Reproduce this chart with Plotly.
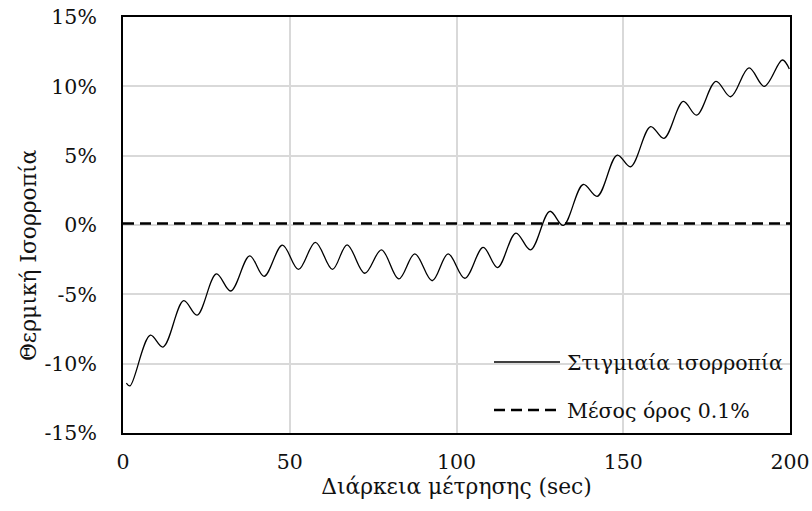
import plotly.graph_objects as go

# Instantaneous thermal balance (%) over the measurement period (sec)
time_sec = [1.0, 2.1, 8.2, 12.0, 18.2, 22.2, 28.0, 32.3, 38.0, 42.3, 47.8, 52.6,
            57.7, 62.8, 67.2, 72.5, 77.5, 82.7, 87.5, 92.7, 97.5, 102.5, 108.0,
            112.3, 117.8, 122.2, 128.0, 132.0, 138.0, 142.2, 148.2, 152.2, 158.2,
            162.2, 168.0, 172.0, 177.8, 182.2, 187.7, 192.3, 197.7, 199.8]
balance_pct = [-11.4, -11.6, -7.95, -8.8, -5.46, -6.5, -3.53, -4.76, -2.22, -3.7,
               -1.45, -3.2, -1.25, -3.2, -1.43, -3.48, -1.79, -3.89, -2.08, -4.02,
               -2.08, -3.84, -1.62, -3.07, -0.58, -1.79, 0.99, -0.03, 2.92, 2.07,
               5.04, 4.2, 7.1, 6.25, 8.91, 7.92, 10.36, 9.25, 11.33, 10.0, 11.9, 11.25]

mean_pct = 0.1
x_range = [0, 200]

x_ticks = [0, 50, 100, 150, 200]
y_ticks = [-15, -10, -5, 0, 5, 10, 15]
y_tick_text = ["-15%", "-10%", "-5%", "0%", "5%", "10%", "15%"]

series_names = ["Στιγμιαία ισορροπία", "Μέσος όρος 0.1%"]
x_title = "Διάρκεια μέτρησης (sec)"
y_title = "Θερμική Ισορροπία"

FONT = "DejaVu Serif"
TEXT_COLOR = "#111111"
TITLE_SIZE = 21.8

fig = go.Figure()
fig.add_trace(go.Scatter(
    x=time_sec, y=balance_pct, mode="lines", name=series_names[0],
    line=dict(color="black", width=1.3, shape="spline", smoothing=1.0),
    showlegend=False,
))
fig.add_trace(go.Scatter(
    x=x_range, y=[mean_pct, mean_pct], mode="lines", name=series_names[1],
    line=dict(color="black", width=2.5, dash="11px,6px"),
    showlegend=False,
))

# Pixel -> paper coordinate helpers for the 123..790 x 17..433 plot box
def px_x(px):
    return (px - 123) / 667

def px_y(py):
    return (433 - py) / 416

# Legend drawn as shapes/annotations so the sample lines can be long
legend_rows = [
    (362, dict(color="black", width=1.3)),
    (410, dict(color="black", width=2.5, dash="11px,6px")),
]
for (py, ln), name in zip(legend_rows, series_names):
    fig.add_shape(type="line", xref="paper", yref="paper",
                  x0=px_x(494), x1=px_x(560), y0=px_y(py), y1=px_y(py), line=ln)
    fig.add_annotation(xref="paper", yref="paper", x=px_x(565), y=px_y(py + 1),
                       text=name, showarrow=False, xanchor="left", yanchor="middle",
                       font=dict(family=FONT, size=20.5, color=TEXT_COLOR))

# Vertical axis title, centred on the whole chart height
fig.add_annotation(xref="paper", yref="paper", x=px_x(28), y=px_y(255),
                   text=y_title, textangle=-90, showarrow=False,
                   xanchor="center", yanchor="middle",
                   font=dict(family=FONT, size=TITLE_SIZE, color=TEXT_COLOR))

axis_common = dict(
    showline=True, linecolor="black", linewidth=2, mirror=True,
    showgrid=True, gridcolor="#d9d9d9", gridwidth=1.5,
    zeroline=False, ticks="", automargin=False,
    tickfont=dict(family=FONT, size=20.5, color=TEXT_COLOR),
)

fig.update_xaxes(range=x_range, tickvals=x_ticks, ticklabelstandoff=9,
                 title=dict(text=x_title, standoff=5,
                            font=dict(family=FONT, size=TITLE_SIZE, color=TEXT_COLOR)),
                 **axis_common)
fig.update_yaxes(range=[-15, 15], tickvals=y_ticks, ticktext=y_tick_text,
                 ticklabelstandoff=20, **axis_common)

fig.update_layout(
    template="none",
    width=812, height=511,
    margin=dict(l=123, r=22, t=17, b=78, pad=0),
    paper_bgcolor="white", plot_bgcolor="white",
    showlegend=False,
)

fig.write_html("out.html")
